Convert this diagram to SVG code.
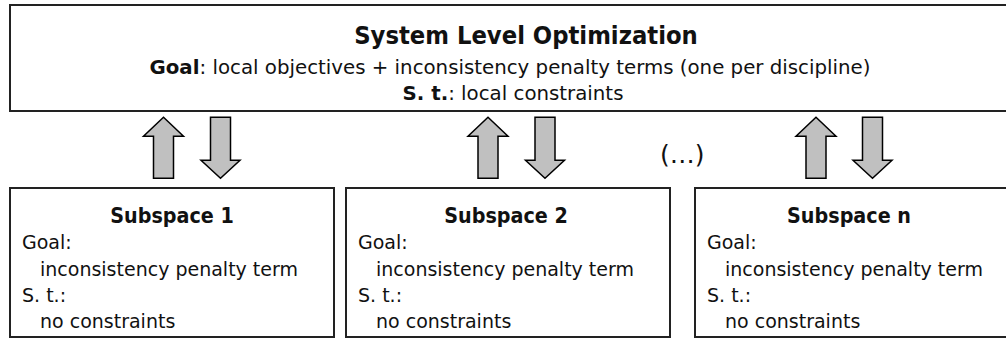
<svg xmlns="http://www.w3.org/2000/svg" width="1006" height="338" viewBox="0 0 1006 338">
<defs>
<style>
.box{fill:#fff;stroke:#222;stroke-width:2}
.arr{fill:#c0c0c0;stroke:#000;stroke-width:1.5;stroke-linejoin:miter}
text{font-family:"DejaVu Sans","Liberation Sans",sans-serif;fill:#111}
.t1{font-family:"DejaVu Sans Condensed","DejaVu Sans",sans-serif;font-size:25.3px;font-weight:bold;text-anchor:middle}
.t2{font-size:19.8px;text-anchor:middle}
.h{font-family:"DejaVu Sans Condensed","DejaVu Sans",sans-serif;font-size:21.3px;font-weight:bold;text-anchor:middle}
.b{font-size:19px}
.b2{font-weight:bold}
</style>
<g id="up"><polygon class="arr" points="0,0 20,19 10,19 10,61 -10,61 -10,19 -20,19"/></g>
<g id="down"><polygon class="arr" points="-10,0 10,0 10,43 19.5,43 0,61 -19.5,43 -10,43"/></g>
</defs>
<g id="system">
<rect class="box" x="10" y="5" width="1006" height="106"/>
<text class="t1" x="526" y="44">System Level Optimization</text>
<text class="t2" x="510" y="74"><tspan class="b2">Goal</tspan>: local objectives + inconsistency penalty terms (one per discipline)</text>
<text class="t2" x="513" y="100"><tspan class="b2">S. t.</tspan>: local constraints</text>
</g>
<g id="connectors">
<use href="#up" x="163.5" y="117.3"/>
<use href="#down" x="220.5" y="117.3"/>
<use href="#up" x="488" y="117.3"/>
<use href="#down" x="545" y="117.3"/>
<use href="#up" x="816" y="117.3"/>
<use href="#down" x="872.5" y="117.3"/>
</g>
<g id="ellipsis"><text x="660" y="163" style="font-size:25px">(…)</text></g>
<g id="sub1">
<rect class="box" x="10" y="188" width="324" height="149"/>
<text class="h" x="172" y="223">Subspace 1</text>
<text class="b" x="22" y="249">Goal:</text>
<text class="b" x="40" y="276">inconsistency penalty term</text>
<text class="b" x="22" y="302">S. t.:</text>
<text class="b" x="40" y="328">no constraints</text>
</g>
<g id="sub2">
<rect class="box" x="346" y="188" width="324" height="149"/>
<text class="h" x="506" y="223">Subspace 2</text>
<text class="b" x="358" y="249">Goal:</text>
<text class="b" x="376" y="276">inconsistency penalty term</text>
<text class="b" x="358" y="302">S. t.:</text>
<text class="b" x="376" y="328">no constraints</text>
</g>
<g id="subn">
<rect class="box" x="695" y="188" width="330" height="149"/>
<text class="h" x="849" y="223">Subspace n</text>
<text class="b" x="707" y="249">Goal:</text>
<text class="b" x="725" y="276">inconsistency penalty term</text>
<text class="b" x="707" y="302">S. t.:</text>
<text class="b" x="725" y="328">no constraints</text>
</g>
</svg>
